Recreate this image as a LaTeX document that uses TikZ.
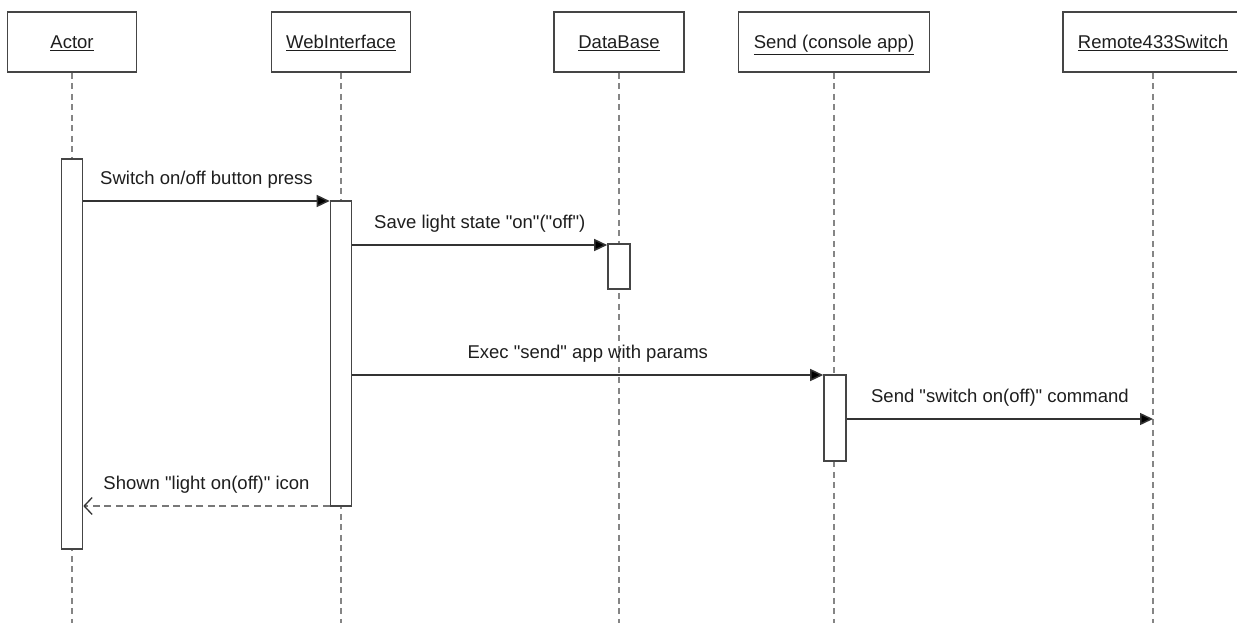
\documentclass[tikz,border=0pt]{standalone}
\usepackage{fontspec}
\setmainfont{Liberation Sans}[Ligatures=TeXOff]
\usetikzlibrary{arrows.meta}
\definecolor{boxline}{HTML}{454545}
\definecolor{lifeline}{HTML}{858585}
\definecolor{msgline}{HTML}{333333}
\definecolor{ink}{HTML}{1E1E1E}
\tikzset{
  lbl/.style={font=\fontsize{18.5}{22}\selectfont, text=ink},
  head/.style={draw=boxline, line width=1.9pt, fill=white, minimum height=60pt,
    inner sep=0pt, text height=13pt, text depth=0pt, lbl},
  bar/.style={draw=boxline, line width=1.6pt, fill=white, minimum width=21pt,
    inner sep=0pt},
  life/.style={draw=lifeline, line width=2.1pt, dash pattern=on 6pt off 4.5pt},
  msg/.style={draw=msgline, line width=1.5pt,
    -{Triangle[length=13pt,width=12pt,fill=black]}},
  reply/.style={draw=lifeline!90!black, line width=1.9pt, dash pattern=on 7pt off 4.5pt,
    -{Straight Barb[length=8pt,width=17pt,line width=1.3pt,color=msgline]}},
  mlabel/.style={lbl, midway, anchor=base, yshift=16.5pt, inner sep=0pt}
}
\begin{document}
\begin{tikzpicture}[x=1pt,y=-1pt]
  \useasboundingbox (0,0) rectangle (1237,623);
  \clip (0,0) rectangle (1237,623);
  \fill[white] (0,0) rectangle (1237,623);

  % participants
  \node[head, minimum width=129pt] (actor)  at (72,42)   {\underline{Actor}};
  \node[head, minimum width=139pt] (web)    at (341,42)  {\underline{WebInterface}};
  \node[head, minimum width=130pt] (db)     at (619,42)  {\underline{DataBase}};
  \node[head, minimum width=191pt] (send)   at (834,42)  {\underline{Send (console app)}};
  \node[head, minimum width=180pt] (remote) at (1153,42) {\underline{Remote433Switch}};

  % lifelines
  \coordinate (bottom) at (0,623);
  \foreach \p in {actor,web,db,send,remote}
    \draw[life] (\p.south) -- (\p.south |- bottom);

  % activation bars
  \node[bar, minimum height=390pt] (abar) at (72,354)  {};
  \node[bar, minimum height=305pt] (wbar) at (341,353.5) {};
  \node[bar, minimum height=45pt, minimum width=22pt] (dbar) at (619,266.5) {};
  \node[bar, minimum height=86pt, minimum width=22pt] (sbar) at (835,418) {};

  % message levels
  \coordinate (m1) at (0,201);
  \coordinate (m2) at (0,245);
  \coordinate (m3) at (0,375);
  \coordinate (m4) at (0,419);
  \coordinate (m5) at (0,506);

  % messages
  \draw[msg] (abar.east |- m1) -- (wbar.west |- m1)
    node[mlabel] {Switch on/off button press};
  \draw[msg] (wbar.east |- m2) -- (dbar.west |- m2)
    node[mlabel] {Save light state "on"("off")};
  \draw[msg] (wbar.east |- m3) -- (sbar.west |- m3)
    node[mlabel] {Exec "send" app with params};
  \draw[msg] (sbar.east |- m4) -- (remote.south |- m4)
    node[mlabel] {Send "switch on(off)" command};
  \draw[reply] (wbar.west |- m5) -- (abar.east |- m5)
    node[mlabel] {Shown "light on(off)" icon};
\end{tikzpicture}
\end{document}
